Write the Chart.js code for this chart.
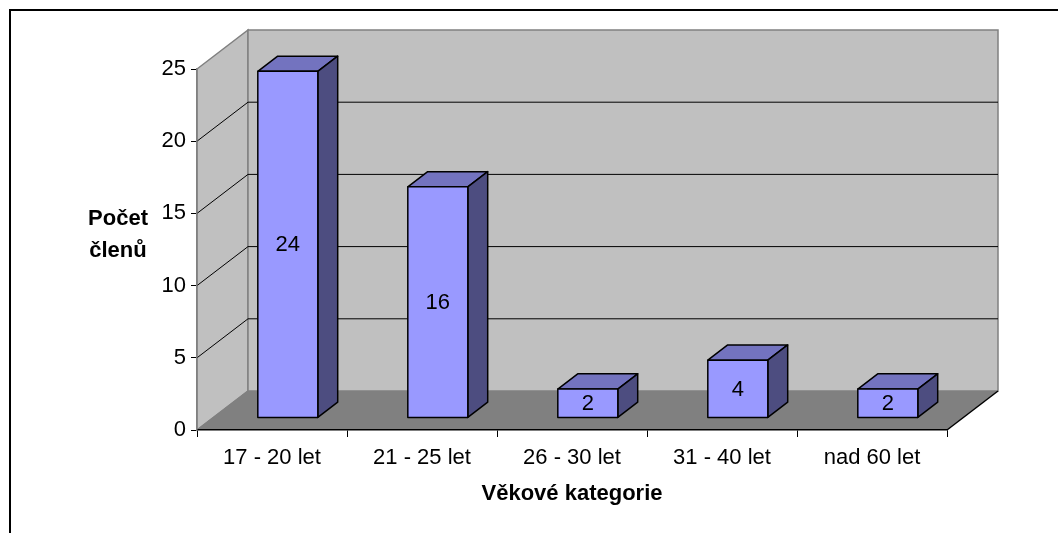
<!doctype html>
<html lang="cs">
<head>
<meta charset="utf-8">
<title>Počet členů</title>
<script src="https://cdn.jsdelivr.net/npm/chart.js@4.4.0/dist/chart.umd.min.js"></script>
<style>
  html, body { margin: 0; padding: 0; background: #fff; }
  #wrap { width: 1058px; height: 533px; }
</style>
</head>
<body>
<div id="wrap"><canvas id="chart" width="1058" height="533"></canvas></div>
<script>
// data
const categories = ['17 - 20 let', '21 - 25 let', '26 - 30 let', '31 - 40 let', 'nad 60 let'];
const members = [24, 16, 2, 4, 2];
const yTicks = [0, 5, 10, 15, 20, 25];
const xTitle = 'Věkové kategorie';
const yTitle = ['Počet', 'členů'];

const FONT = 'Arial, "Liberation Sans", sans-serif';
const DEPTH = { x: 51, y: -39 };      // back wall offset
const BAR_FRONT = 0.31, BAR_BACK = 0.70; // bar position inside the depth

function poly(ctx, pts, fill, stroke, lw) {
  ctx.beginPath();
  ctx.moveTo(pts[0][0], pts[0][1]);
  for (let i = 1; i < pts.length; i++) ctx.lineTo(pts[i][0], pts[i][1]);
  ctx.closePath();
  if (fill) { ctx.fillStyle = fill; ctx.fill(); }
  if (stroke) { ctx.strokeStyle = stroke; ctx.lineWidth = lw || 1; ctx.stroke(); }
}

const box3d = {
  id: 'box3d',
  beforeDraw(chart) {
    const ctx = chart.ctx;
    const a = chart.chartArea;
    const ys = chart.scales.y;
    const L = a.left, R = a.right, T = ys.getPixelForValue(25), B = ys.getPixelForValue(0);
    const dx = DEPTH.x, dy = DEPTH.y;
    ctx.save();
    // outer frame
    ctx.strokeStyle = '#000';
    ctx.lineWidth = 2;
    ctx.beginPath();
    ctx.moveTo(10, chart.height + 5); ctx.lineTo(10, 10); ctx.lineTo(chart.width + 5, 10);
    ctx.stroke();
    // walls
    poly(ctx, [[L, T], [L + dx, T + dy], [L + dx, B + dy], [L, B]], '#c0c0c0', '#808080', 1.5);
    poly(ctx, [[L + dx, T + dy], [R + dx, T + dy], [R + dx, B + dy], [L + dx, B + dy]], '#c0c0c0', '#808080', 1.5);
    // gridlines
    ctx.strokeStyle = '#000';
    ctx.lineWidth = 1;
    yTicks.forEach(v => {
      if (v === 0 || v === 25) return;
      const y = ys.getPixelForValue(v);
      ctx.beginPath();
      ctx.moveTo(L, y); ctx.lineTo(L + dx, y + dy); ctx.lineTo(R + dx, y + dy);
      ctx.stroke();
    });
    // floor
    poly(ctx, [[L, B], [R, B], [R + dx, B + dy], [L + dx, B + dy]], '#808080', null);
    ctx.strokeStyle = '#000';
    ctx.lineWidth = 1.5;
    ctx.beginPath();
    ctx.moveTo(R, B); ctx.lineTo(R + dx, B + dy);
    ctx.stroke();
    ctx.strokeStyle = '#808080';
    ctx.beginPath();
    ctx.moveTo(L, B); ctx.lineTo(L + dx, B + dy);
    ctx.stroke();
    ctx.restore();
  },
  afterDatasetsDraw(chart) {
    const ctx = chart.ctx;
    const meta = chart.getDatasetMeta(0);
    const fx = DEPTH.x * BAR_FRONT, fy = DEPTH.y * BAR_FRONT;
    const bx = DEPTH.x * (BAR_BACK - BAR_FRONT), by = DEPTH.y * (BAR_BACK - BAR_FRONT);
    ctx.save();
    ctx.lineJoin = 'round';
    meta.data.forEach((bar, i) => {
      const x0 = bar.x - bar.width / 2 + fx, x1 = bar.x + bar.width / 2 + fx;
      const y0 = bar.y + fy, y1 = bar.base + fy;
      // top
      poly(ctx, [[x0, y0], [x0 + bx, y0 + by], [x1 + bx, y0 + by], [x1, y0]], '#7373bf', '#000', 1.5);
      // side
      poly(ctx, [[x1, y0], [x1 + bx, y0 + by], [x1 + bx, y1 + by], [x1, y1]], '#4d4d80', '#000', 1.5);
      // front
      poly(ctx, [[x0, y0], [x1, y0], [x1, y1], [x0, y1]], '#9999ff', '#000', 1.5);
      // value label
      ctx.fillStyle = '#000';
      ctx.font = '22px ' + FONT;
      ctx.textAlign = 'center';
      ctx.textBaseline = 'middle';
      ctx.fillText(String(members[i]), (x0 + x1) / 2, (y0 + y1) / 2 + 1);
    });
    ctx.restore();
  },
  afterDraw(chart) {
    const ctx = chart.ctx;
    ctx.save();
    ctx.fillStyle = '#000';
    ctx.font = 'bold 22px ' + FONT;
    ctx.textAlign = 'center';
    ctx.textBaseline = 'middle';
    ctx.fillText(yTitle[0], 118, 219);
    ctx.fillText(yTitle[1], 118, 251);
    ctx.restore();
  }
};

new Chart(document.getElementById('chart'), {
  type: 'bar',
  data: {
    labels: categories,
    datasets: [{
      data: members,
      backgroundColor: 'rgba(0,0,0,0)',
      borderWidth: 0,
      barPercentage: 0.4,
      categoryPercentage: 1
    }]
  },
  options: {
    responsive: false,
    animation: false,
    devicePixelRatio: 1,
    layout: { padding: { top: 69, right: 111, left: 0, bottom: 0 } },
    plugins: { legend: { display: false }, tooltip: { enabled: false } },
    scales: {
      x: {
        grid: { drawOnChartArea: false, drawTicks: true, tickLength: 7, tickColor: '#000', offset: true },
        border: { color: '#000', width: 1.5 },
        ticks: { color: '#000', font: { family: FONT, size: 22 }, padding: 8, maxRotation: 0 },
        title: { display: true, text: xTitle, color: '#000', font: { family: FONT, size: 22, weight: 'bold' }, padding: { top: 0, bottom: 26 } },
        afterFit(s) { s.height = 103; }
      },
      y: {
        min: 0, max: 25,
        afterBuildTicks(s) { s.ticks = yTicks.map(v => ({ value: v })); },
        grid: { drawOnChartArea: false, drawTicks: true, tickLength: 6, tickColor: '#000' },
        border: { color: '#808080', width: 1.5 },
        ticks: { color: '#000', font: { family: FONT, size: 22 }, padding: 5 },
        afterFit(s) { s.width = 197; }
      }
    }
  },
  plugins: [box3d]
});
</script>
</body>
</html>
